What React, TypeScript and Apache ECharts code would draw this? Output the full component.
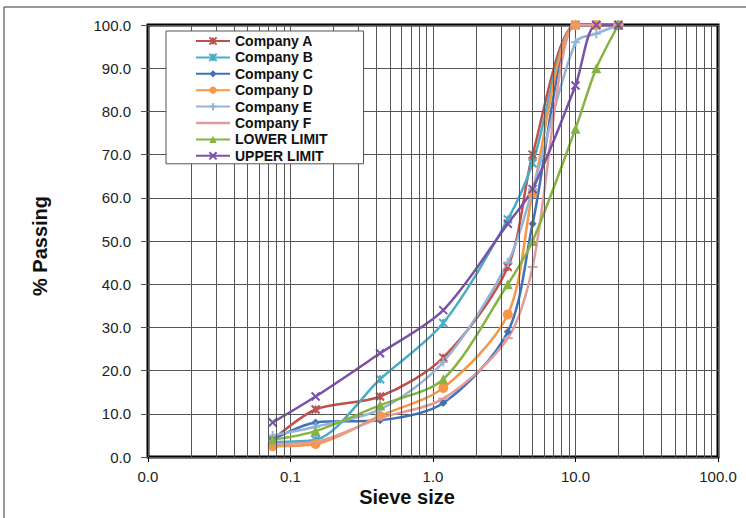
import React, { useEffect, useRef } from "react";
import * as echarts from "echarts";

const sieveSizes = [0.075, 0.15, 0.425, 1.18, 3.35, 5, 10, 14, 20];
const companyA = [4, 11, 14, 23, 44, 70, 100, 100, 100];
const companyB = [3.5, 4, 18, 31, 55, 68, 100, 100, 100];
const companyC = [4, 8, 8.5, 12.5, 29, 54, 100, 100, 100];
const companyD = [2.5, 3, 9.5, 16, 33, 61, 100, 100, 100];
const companyE = [5, 7, 11, 22, 45, 62, 96, 98, 100];
const companyF = [3, 3.5, 9, 13.5, 27.5, 44, 100, 100, 100];
const lowerLimit = [4, 6, 12, 18, 40, 50, 76, 90, 100];
const upperLimit = [8, 14, 24, 34, 54, 62, 86, 100, 100];

const seriesNames = [
  "Company A",
  "Company B",
  "Company C",
  "Company D",
  "Company E",
  "Company F",
  "LOWER LIMIT",
  "UPPER LIMIT",
];
const seriesValues = [companyA, companyB, companyC, companyD, companyE, companyF, lowerLimit, upperLimit];
const seriesColors = ["#C0504D", "#4BACC6", "#3F72B8", "#F79646", "#95B3D7", "#E39A9A", "#86B443", "#7B52A8"];

const STAR = "path://M0,0L10,10M10,0L0,10M5,0L5,10";
const CROSS = "path://M0,0L10,10M10,0L0,10";
const PLUS = "path://M5,0L5,10M0,5L10,5";
const seriesSymbols: any[] = [STAR, STAR, "diamond", "circle", PLUS, "rect", "triangle", CROSS];
const seriesSymbolSizes: any[] = [8, 8, 8, 10, 9, [10, 2], 10, 8];
const strokeSymbol = [true, true, false, false, true, false, false, true];

const xTickDecades = [0.01, 0.1, 1, 10];
const FONT = "'Liberation Sans', Arial, sans-serif";

export default function App() {
  const ref = useRef<HTMLDivElement>(null);
  useEffect(() => {
    if (!ref.current) return;
    const chart = echarts.init(ref.current, null, { renderer: "svg" });
    const minorLines: any[] = [];
    xTickDecades.forEach((d) => {
      for (let k = 2; k <= 9; k++) minorLines.push({ xAxis: d * k });
    });
    const series: any[] = seriesNames.map((name, i) => ({
      name,
      type: "line",
      smooth: 0.3,
      z: 3,
      data: sieveSizes.map((s, j) => [s, seriesValues[i][j]]),
      symbol: seriesSymbols[i],
      symbolSize: seriesSymbolSizes[i],
      showSymbol: true,
      lineStyle: { color: seriesColors[i], width: 2.5 },
      itemStyle: {
        color: seriesColors[i],
        borderColor: seriesColors[i],
        borderWidth: strokeSymbol[i] ? 2 : 0,
      },
      emphasis: { disabled: true },
    }));
    series.unshift({
      name: "_grid",
      type: "line",
      data: [],
      z: 1,
      silent: true,
      markLine: {
        silent: true,
        symbol: ["none", "none"],
        label: { show: false },
        lineStyle: { type: "solid", color: "#555", width: 1 },
        data: minorLines,
      },
    });
    const legendData: any[] = seriesNames.map((n, i) =>
      i === 5 ? { name: n, icon: "path://M0,0L34,0L34,2.6L0,2.6Z" } : n
    );
    chart.setOption({
      animation: false,
      backgroundColor: "#fff",
      grid: {
        left: 148,
        right: 28,
        top: 25,
        bottom: 61,
        show: true,
        borderColor: "#000",
        borderWidth: 3,
        backgroundColor: "transparent",
      },
      xAxis: {
        type: "log",
        logBase: 10,
        min: 0.01,
        max: 100,
        axisLine: { show: false },
        axisTick: { show: true, inside: false, length: 5, lineStyle: { color: "#000" } },
        axisLabel: {
          margin: 12,
          fontFamily: FONT,
          fontSize: 15,
          color: "#222",
          formatter: (v: number) => Number(v).toFixed(1),
        },
        splitLine: { show: true, lineStyle: { color: "#555", width: 1 } },
      },
      yAxis: {
        type: "value",
        min: 0,
        max: 100,
        interval: 10,
        axisLine: { show: false },
        axisTick: { show: true, inside: false, length: 7, lineStyle: { color: "#555" } },
        axisLabel: {
          margin: 17,
          fontFamily: FONT,
          fontSize: 15,
          color: "#222",
          formatter: (v: number) => Number(v).toFixed(1),
        },
        splitLine: { show: true, lineStyle: { color: "#555", width: 1 } },
      },
      legend: {
        data: legendData,
        orient: "vertical",
        left: 166,
        top: 31,
        padding: [3, 36, 1, 29],
        backgroundColor: "#fff",
        borderColor: "#555",
        borderWidth: 1,
        z: 10,
        itemWidth: 34,
        itemHeight: 9,
        itemGap: 2.4,
        selectedMode: false,
        textStyle: { fontFamily: FONT, fontSize: 14, fontWeight: "bold", color: "#111", lineHeight: 14 },
      },
      graphic: [
        {
          type: "rect",
          silent: true,
          shape: { x: 4, y: 7, width: 800, height: 600 },
          style: { fill: "none", stroke: "#333", lineWidth: 1 },
        },
        {
          type: "text",
          x: 40,
          y: 246,
          rotation: Math.PI / 2,
          style: {
            text: "% Passing",
            fontFamily: FONT,
            fontSize: 20,
            fontWeight: "bold",
            fill: "#111",
            align: "center",
            verticalAlign: "middle",
          },
        },
        {
          type: "text",
          x: 407,
          y: 497,
          style: {
            text: "Sieve size",
            fontFamily: FONT,
            fontSize: 20,
            fontWeight: "bold",
            fill: "#111",
            align: "center",
            verticalAlign: "middle",
          },
        },
      ],
      series,
    });
    return () => chart.dispose();
  }, []);
  return (
    <div
      ref={ref}
      style={{ position: "fixed", left: 0, top: 0, width: 746, height: 518, background: "#fff" }}
    />
  );
}
